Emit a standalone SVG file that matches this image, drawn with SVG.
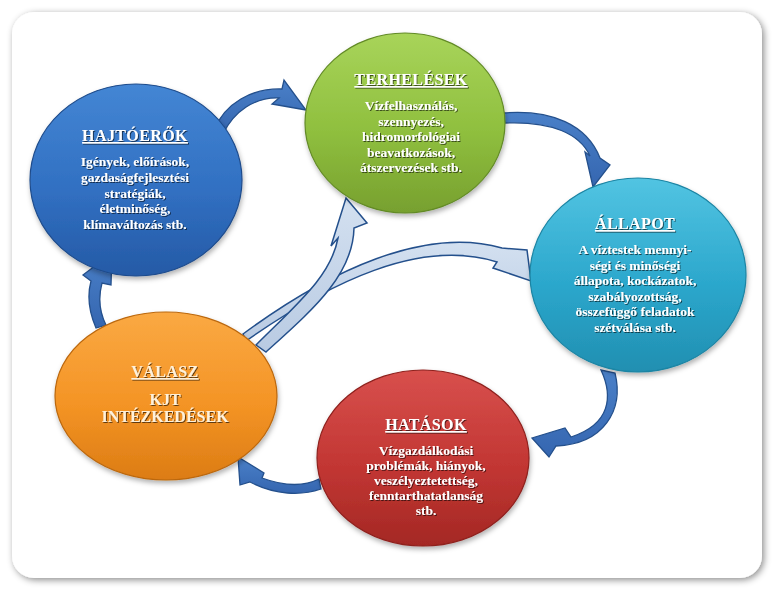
<svg xmlns="http://www.w3.org/2000/svg" width="775" height="594" viewBox="0 0 775 594">
<defs>
<filter id="frameShadow" x="-5%" y="-5%" width="110%" height="110%">
<feDropShadow dx="2" dy="2" stdDeviation="3.5" flood-color="#000" flood-opacity="0.45"/>
</filter>
<filter id="nodeShadow" x="-10%" y="-10%" width="120%" height="125%">
<feDropShadow dx="1" dy="3" stdDeviation="2.5" flood-color="#000" flood-opacity="0.3"/>
</filter>
<filter id="textShadow" x="-5%" y="-20%" width="110%" height="140%">
<feDropShadow dx="1" dy="1" stdDeviation="0.6" flood-color="#000" flood-opacity="0.6"/>
</filter>
<linearGradient id="gBlue" x1="0" y1="0" x2="0" y2="1">
<stop offset="0" stop-color="#4486d4"/><stop offset="0.55" stop-color="#3170c2"/><stop offset="1" stop-color="#255aa6"/>
</linearGradient>
<linearGradient id="gGreen" x1="0" y1="0" x2="0" y2="1">
<stop offset="0" stop-color="#a8d45a"/><stop offset="0.55" stop-color="#8fbf3e"/><stop offset="1" stop-color="#77a02f"/>
</linearGradient>
<linearGradient id="gCyan" x1="0" y1="0" x2="0" y2="1">
<stop offset="0" stop-color="#52c4e2"/><stop offset="0.55" stop-color="#2ba7cc"/><stop offset="1" stop-color="#218fb1"/>
</linearGradient>
<linearGradient id="gRed" x1="0" y1="0" x2="0" y2="1">
<stop offset="0" stop-color="#d8504d"/><stop offset="0.55" stop-color="#c23633"/><stop offset="1" stop-color="#a42824"/>
</linearGradient>
<linearGradient id="gOrange" x1="0" y1="0" x2="0" y2="1">
<stop offset="0" stop-color="#faa943"/><stop offset="0.55" stop-color="#f49425"/><stop offset="1" stop-color="#dc7c14"/>
</linearGradient>
<linearGradient id="gArrow" x1="0" y1="0" x2="0" y2="1">
<stop offset="0" stop-color="#4a80c8"/><stop offset="1" stop-color="#3566b0"/>
</linearGradient>
<linearGradient id="gLight" x1="0" y1="0" x2="0" y2="1">
<stop offset="0" stop-color="#d3e0f0"/><stop offset="1" stop-color="#b9cbe3"/>
</linearGradient>
<style>
.frame { fill: #ffffff; }
.node ellipse { stroke-width: 1.2; }
.title { font-family: "Liberation Serif", "Times New Roman", serif; font-weight: bold; font-size: 16px; text-anchor: middle; fill: #ffffff; text-decoration: underline; letter-spacing: 0.4px; }
.body { font-family: "Liberation Serif", "Times New Roman", serif; font-weight: bold; font-size: 13.5px; text-anchor: middle; fill: #ffffff; }
.bodyL { font-family: "Liberation Serif", "Times New Roman", serif; font-weight: bold; font-size: 16px; text-anchor: middle; fill: #fff1da; }
.arrow { fill: url(#gArrow); stroke: #24508c; stroke-width: 1.3; stroke-linejoin: miter; }
.light { fill: url(#gLight); stroke: #24508c; stroke-width: 1.5; stroke-linejoin: miter; }
</style>
</defs>

<rect class="frame" x="12" y="12" width="750" height="566" rx="22" ry="22" filter="url(#frameShadow)"/>

<g id="connectors">
<!-- HAJTÓERŐK -> TERHELÉSEK -->
<path class="arrow" d="M 214,130 C 225,103 252,88 282,89 L 284,80 L 306,110 L 272,104 L 279,98 C 255,97 234,111 223,134 Z"/>
<!-- TERHELÉSEK -> ÁLLAPOT -->
<path class="arrow" d="M 503,113 C 552,109 587,125 600,158 L 610,165 L 593,187 L 585,152 L 590,156 C 580,134 552,121 505,123 Z"/>
<!-- ÁLLAPOT -> HATÁSOK -->
<path class="arrow" d="M 601,370 C 613,396 611,424 571,437 L 565,428 L 532,438 L 549,457 L 556,446 C 604,444 624,410 615,373 Z"/>
<!-- HATÁSOK -> VÁLASZ -->
<path class="arrow" d="M 319,479 C 301,488 281,485 262,478 L 264,473 L 238,457 L 240,485 L 250,482 C 275,495 301,496 321,489 Z"/>
<!-- VÁLASZ -> HAJTÓERŐK -->
<path class="arrow" d="M 96,328 C 89,312 87,296 91,281 L 83,275 L 112,253 L 111,285 L 102,283 C 98,298 100,313 106,325 Z"/>
<!-- VÁLASZ -> ÁLLAPOT (light) -->
<path class="light" d="M 243,334 C 330,270 425,226 502,248 L 527,250 L 531,281 L 493,268 L 497,262 C 420,238 330,282 246,341 Z"/>
<!-- VÁLASZ -> TERHELÉSEK (light) -->
<path class="light" d="M 256,345 C 298,303 331,276 338,238 L 331,246 L 346,198 L 367,223 L 354,228 C 353,276 311,311 266,352 Z"/>
</g>

<g id="hajtoerok" class="node">
<ellipse cx="136" cy="180" rx="106" ry="96" fill="url(#gBlue)" stroke="#1f4c8c" filter="url(#nodeShadow)"/>
<g filter="url(#textShadow)">
<text class="title" x="135" y="141">HAJTÓERŐK</text>
<text class="body" x="135" y="166">Igények, előírások,</text>
<text class="body" x="135" y="181.8">gazdaságfejlesztési</text>
<text class="body" x="135" y="197.6">stratégiák,</text>
<text class="body" x="135" y="213.4">életminőség,</text>
<text class="body" x="135" y="229.2">klímaváltozás stb.</text>
</g>
</g>

<g id="terhelesek" class="node">
<ellipse cx="405" cy="123" rx="100" ry="90" fill="url(#gGreen)" stroke="#628a26" filter="url(#nodeShadow)"/>
<g filter="url(#textShadow)">
<text class="title" x="411" y="85">TERHELÉSEK</text>
<text class="body" x="411" y="110">Vízfelhasználás,</text>
<text class="body" x="411" y="125.5">szennyezés,</text>
<text class="body" x="411" y="141">hidromorfológiai</text>
<text class="body" x="411" y="156.5">beavatkozások,</text>
<text class="body" x="411" y="172">átszervezések stb.</text>
</g>
</g>

<g id="allapot" class="node">
<ellipse cx="638" cy="275" rx="108" ry="97" fill="url(#gCyan)" stroke="#1b84a3" filter="url(#nodeShadow)"/>
<g filter="url(#textShadow)">
<text class="title" x="635" y="229">ÁLLAPOT</text>
<text class="body" x="635" y="254">A víztestek mennyi-</text>
<text class="body" x="635" y="269.5">ségi és minőségi</text>
<text class="body" x="635" y="285">állapota, kockázatok,</text>
<text class="body" x="635" y="300.5">szabályozottság,</text>
<text class="body" x="635" y="316">összefüggő feladatok</text>
<text class="body" x="635" y="331.5">szétválása stb.</text>
</g>
</g>

<g id="hatasok" class="node">
<ellipse cx="423" cy="458" rx="106" ry="88" fill="url(#gRed)" stroke="#8e201d" filter="url(#nodeShadow)"/>
<g filter="url(#textShadow)">
<text class="title" x="426" y="430">HATÁSOK</text>
<text class="body" x="426" y="455">Vízgazdálkodási</text>
<text class="body" x="426" y="470">problémák, hiányok,</text>
<text class="body" x="426" y="485">veszélyeztetettség,</text>
<text class="body" x="426" y="500">fenntarthatatlanság</text>
<text class="body" x="426" y="515">stb.</text>
</g>
</g>

<g id="valasz" class="node">
<ellipse cx="166" cy="396" rx="111" ry="84" fill="url(#gOrange)" stroke="#bb670d" filter="url(#nodeShadow)"/>
<g filter="url(#textShadow)">
<text class="title" x="165" y="377" style="fill:#fff1da">VÁLASZ</text>
<text class="bodyL" x="165" y="405">KJT</text>
<text class="bodyL" x="165" y="422">INTÉZKEDÉSEK</text>
</g>
</g>
</svg>
